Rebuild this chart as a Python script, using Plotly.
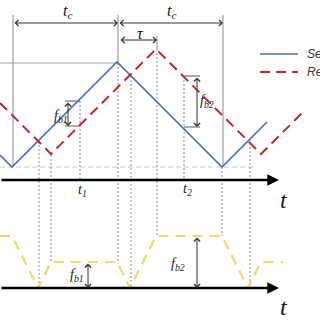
import plotly.graph_objects as go

# ---- data (time, frequency) ----
sent_t = [0, 12, 117, 222, 267]
sent_f = [12, 0, 105, 0, 45]
recv_t = [0, 51, 156, 261, 305]
recv_f = [64, 13, 118, 13, 57]
beat_t = [0, 12, 38, 51, 117, 130, 156, 222, 248, 261, 283]
beat_f = [52, 52, 0, 26, 26, 0, 52, 52, 0, 26, 26]

series_names = ["Sent signal", "Received signal"]

W = H = 320
BLUE = "#4a72b0"
RED = "#c0282d"
YEL = "#eedb6a"
GRAY = "#a0a0a0"
DOT = "#8c8c8c"
MATH = "Liberation Serif"


def px(x):
    return x / W


def py(y):
    return 1 - y / H


fig = go.Figure()
fig.add_trace(go.Scatter(x=sent_t, y=sent_f, mode="lines", name=series_names[0],
                         line=dict(color=BLUE, width=1.6), showlegend=False))
fig.add_trace(go.Scatter(x=recv_t, y=recv_f, mode="lines", name=series_names[1],
                         line=dict(color=RED, width=2, dash="10px,6px"), showlegend=False))
fig.add_trace(go.Scatter(x=beat_t, y=beat_f, mode="lines", name="Beat",
                         line=dict(color=YEL, width=2.2, dash="10px,7px"),
                         yaxis="y2", showlegend=False))

shapes = []


def seg(x0, y0, x1, y1, color, width=1, dash="solid"):
    shapes.append(dict(type="line", xref="paper", yref="paper",
                       x0=px(x0), y0=py(y0), x1=px(x1), y1=py(y1),
                       line=dict(color=color, width=width, dash=dash), layer="below"))


# baseline & reference lines
seg(0, 167, 255, 167, "#c8c8c8", 1, "5px,3px")
seg(0, 63, 118, 63, GRAY, 1.2)
seg(13, 15, 13, 167, GRAY, 1.2)
seg(118, 15, 118, 63, GRAY, 1.2)
seg(223, 15, 223, 167, GRAY, 1.2)
seg(157, 36, 157, 49, GRAY, 1.2)

# dotted vertical guides (x, top, bottom)
guides = [(39, 141, 288), (51, 155, 262), (80, 101, 180), (118, 63, 262),
          (131, 76, 288), (157, 49, 236), (184, 76, 180), (222, 167, 236),
          (250, 139, 288)]
for gx, gy0, gy1 in guides:
    seg(gx, gy0, gx, gy1, DOT, 1, "2px,2px")

# bracket ticks
seg(65, 101, 80, 101, "#555", 1)
seg(65, 126, 80, 126, "#555", 1)
seg(184, 76, 200, 76, "#555", 1)
seg(184, 127, 200, 127, "#555", 1)

# legend samples
seg(260, 54, 298, 54, BLUE, 1.6)
seg(260, 72, 298, 72, RED, 2, "10px,6px")

annotations = []


def darrow(x0, y0, x1, y1, color="#333", width=1):
    annotations.append(dict(xref="paper", yref="paper", x=px(x1), y=py(y1),
                            ax=x0 - x1, ay=y0 - y1, axref="pixel", ayref="pixel",
                            text="", showarrow=True, arrowside="end+start",
                            arrowhead=4, startarrowhead=4, arrowsize=1.2,
                            startarrowsize=1.2, arrowwidth=width, arrowcolor=color,
                            standoff=0, startstandoff=0))


def axis_arrow(y):
    annotations.append(dict(xref="paper", yref="paper", x=px(279), y=py(y),
                            ax=-279, ay=0, axref="pixel", ayref="pixel",
                            text="", showarrow=True, arrowhead=2, arrowsize=0.9,
                            arrowwidth=2.6, arrowcolor="black", standoff=0))


def label(x, y, text, size=14):
    annotations.append(dict(xref="paper", yref="paper", x=px(x), y=py(y),
                            text=text, showarrow=False, xanchor="center",
                            yanchor="middle",
                            font=dict(family=MATH, size=size, color="#1a1a1a")))


axis_arrow(180)
axis_arrow(288)

darrow(13, 23, 118, 23)
darrow(118, 23, 223, 23)
darrow(119, 40, 157, 40)
darrow(68, 101, 68, 126)
darrow(197, 76, 197, 127)
darrow(88, 262, 88, 288)
darrow(197, 236, 197, 288)

label(67, 11, "<i>t<sub>c</sub></i>", 16)
label(171, 11, "<i>t<sub>c</sub></i>", 16)
label(140, 33, "<i>τ</i>", 16)
label(61, 116, "<i>f<sub>b1</sub></i>", 14)
label(207, 101, "<i>f<sub>b2</sub></i>", 14)
label(82, 190, "<i>t<sub>1</sub></i>", 14)
label(187, 189, "<i>t<sub>2</sub></i>", 14)
label(77, 275, "<i>f<sub>b1</sub></i>", 14)
label(178, 264, "<i>f<sub>b2</sub></i>", 14)
label(284, 200, "<i>t</i>", 24)
label(284, 307, "<i>t</i>", 24)

for i, (name, yy) in enumerate(zip(series_names, [54, 72])):
    annotations.append(dict(xref="paper", yref="paper", x=px(305), y=py(yy),
                            text="<i>" + name + "</i>", showarrow=False,
                            xanchor="left", yanchor="middle",
                            font=dict(family="Liberation Sans", size=12, color="#333")))

fig.update_layout(
    width=W, height=H, autosize=False,
    margin=dict(l=0, r=0, t=0, b=0, pad=0),
    paper_bgcolor="white", plot_bgcolor="white",
    xaxis=dict(range=[0, 320], visible=False, fixedrange=True),
    yaxis=dict(range=[-153, 167], visible=False, fixedrange=True),
    yaxis2=dict(range=[-32, 288], visible=False, overlaying="y", fixedrange=True),
    shapes=shapes, annotations=annotations, showlegend=False,
)

fig.write_html("out.html")
